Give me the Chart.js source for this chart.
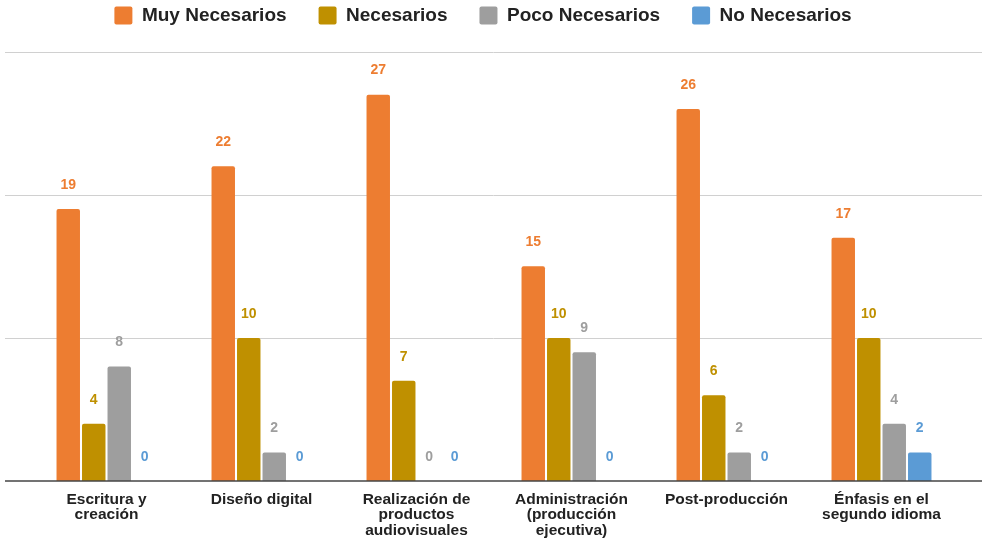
<!DOCTYPE html>
<html>
<head>
<meta charset="utf-8">
<script src="https://cdn.jsdelivr.net/npm/chart.js@4/dist/chart.umd.min.js"></script>
<style>
  html, body { margin: 0; padding: 0; background: #fff; }
  #wrap { width: 986px; height: 538px; position: relative; }
</style>
</head>
<body>
<div id="wrap"><canvas id="chart"></canvas></div>
<script>
const categories = [
  ["Escritura y", "creación"],
  "Diseño digital",
  ["Realización de", "productos", "audiovisuales"],
  ["Administración", "(producción", "ejecutiva)"],
  "Post-producción",
  ["Énfasis en el", "segundo idioma"]
];
const muyNecesarios = [19, 22, 27, 15, 26, 17];
const necesarios = [4, 10, 7, 10, 6, 10];
const pocoNecesarios = [8, 2, 0, 9, 2, 4];
const noNecesarios = [0, 0, 0, 0, 0, 2];
const gridValues = [10, 20, 30];

const FONT = '"Liberation Sans", Arial, Helvetica, sans-serif';

// horizontal grid lines run wider than the plot area in the original
const wideGrid = {
  id: "wideGrid",
  beforeDatasetsDraw(chart) {
    const { ctx, scales: { y } } = chart;
    ctx.save();
    ctx.strokeStyle = "#d0d0d0";
    ctx.lineWidth = 1;
    gridValues.forEach(v => {
      const py = Math.round(y.getPixelForValue(v)) + 0.5;
      ctx.beginPath();
      ctx.moveTo(5, py);
      ctx.lineTo(982, py);
      ctx.stroke();
    });
    ctx.restore();
  },
  afterDatasetsDraw(chart) {
    const { ctx, scales: { y } } = chart;
    const py = Math.round(y.getPixelForValue(0));
    ctx.save();
    ctx.strokeStyle = "#444";
    ctx.lineWidth = 1.6;
    ctx.beginPath();
    ctx.moveTo(5, py);
    ctx.lineTo(982, py);
    ctx.stroke();

    // value labels above bars
    ctx.font = "bold 14px " + FONT;
    ctx.textAlign = "center";
    ctx.textBaseline = "middle";
    chart.data.datasets.forEach((ds, i) => {
      chart.getDatasetMeta(i).data.forEach((bar, j) => {
        ctx.fillStyle = ds.backgroundColor;
        ctx.fillText(ds.data[j], bar.x, bar.y - 24);
      });
    });
    ctx.restore();
  }
};

// extra room between legend and plot
const legendSpace = {
  id: "legendSpace",
  beforeLayout(chart) {
    const lg = chart.legend;
    if (lg && !lg._patched) {
      const fit = lg.fit;
      lg.fit = function () { fit.call(this); this.height += 16.7; };
      lg._patched = true;
    }
  }
};

new Chart(document.getElementById("chart"), {
  type: "bar",
  data: {
    labels: categories,
    datasets: [
      { label: "Muy Necesarios", data: muyNecesarios, backgroundColor: "#ED7D31" },
      { label: "Necesarios", data: necesarios, backgroundColor: "#BF9000" },
      { label: "Poco Necesarios", data: pocoNecesarios, backgroundColor: "#9E9E9E" },
      { label: "No Necesarios", data: noNecesarios, backgroundColor: "#5B9BD5" }
    ]
  },
  options: {
    responsive: true,
    maintainAspectRatio: false,
    animation: false,
    layout: { padding: { left: 7, right: 27, top: -26, bottom: -10.5 } },
    datasets: {
      bar: {
        categoryPercentage: 0.658,
        barPercentage: 0.92,
        borderRadius: { topLeft: 2, topRight: 2 },
        borderSkipped: "start"
      }
    },
    plugins: {
      legend: {
        position: "top",
        labels: {
          boxWidth: 18,
          boxHeight: 18,
          padding: 32,
          color: "#222",
          useBorderRadius: true,
          borderRadius: 2,
          font: { family: FONT, size: 19, weight: "bold" }
        }
      },
      tooltip: { enabled: false }
    },
    scales: {
      x: {
        grid: { display: false, drawTicks: false },
        border: { display: false },
        ticks: {
          padding: 10.5,
          color: "#222",
          autoSkip: false,
          maxRotation: 0,
          font: { family: FONT, size: 15.5, weight: "bold", lineHeight: 1.0 }
        }
      },
      y: {
        // invisible axis, only reserves space on the left
        min: 0,
        max: 30,
        grid: { display: false, drawTicks: false },
        border: { display: false },
        ticks: { display: false, stepSize: 10 },
        afterFit(scale) { scale.width = 22; }
      }
    }
  },
  plugins: [wideGrid, legendSpace]
});
</script>
</body>
</html>
